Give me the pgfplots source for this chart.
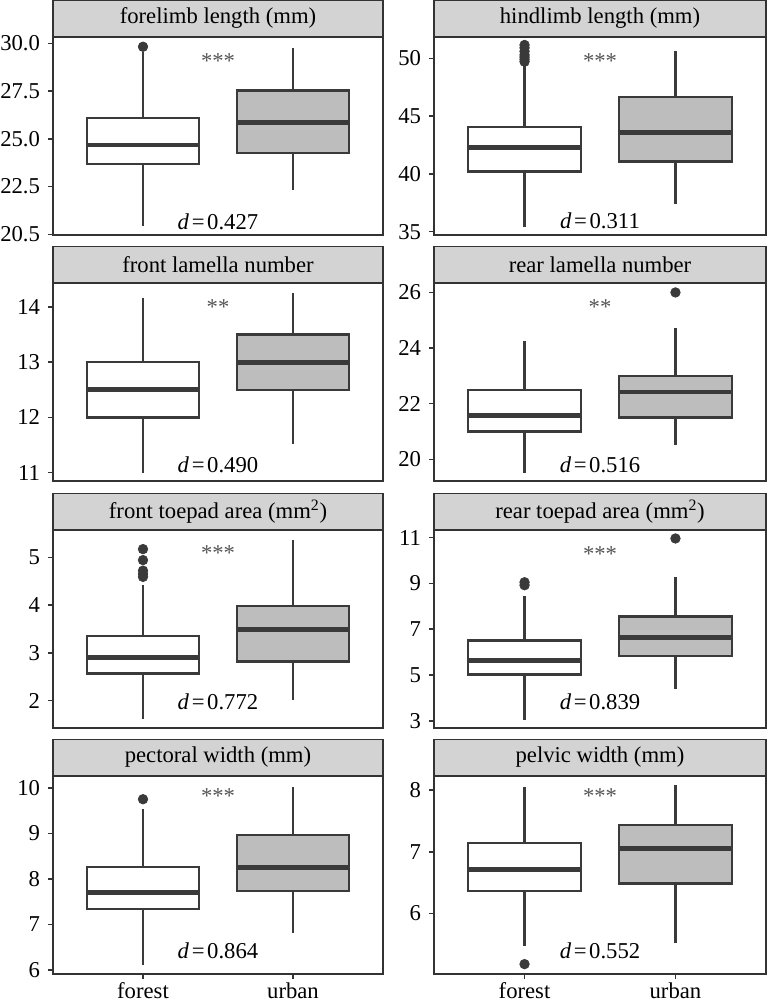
\documentclass[border=0pt]{standalone}
\usepackage{fontspec}
\setmainfont{Liberation Serif}
\usepackage{pgfplots}
\pgfplotsset{compat=1.18}
\usepgfplotslibrary{statistics}
\definecolor{axc}{HTML}{333333}
\definecolor{linec}{HTML}{3A3A3A}
\definecolor{urbanc}{HTML}{BDBDBD}
\definecolor{stripc}{HTML}{D3D3D3}
\definecolor{starc}{HTML}{555555}
\newcommand\lab{\fontsize{17}{20}\selectfont}
\pgfplotsset{
  panel/.style={
    scale only axis, height=148.5pt,
    xmin=0.4, xmax=2.6,
    axis line style={draw=axc, line width=1.1pt},
    tick pos=left, tick align=outside, major tick length=3.75pt,
    every tick/.style={draw=axc, line width=1.1pt},
    ticklabel style={font=\lab, text=black},
    yticklabel style={xshift=-2.5pt},
    xticklabel style={yshift=-1.5pt, inner ysep=1pt},
    /pgf/number format/assume math mode=true,
    xtick=\empty,
    clip=false,
    every axis title shift=0pt,
    title style={at={(0.5,1)}, anchor=south, yshift=0pt, draw=axc, fill=stripc, line width=0.9pt, minimum height=27pt, inner sep=0pt, font=\lab},
    after end axis/.append code={\draw[axc, line width=1.8pt] (rel axis cs:0,1) -- (rel axis cs:0,0) -- (rel axis cs:1,0);},
  },
  leftp/.style={panel, width=247.5pt, title style={minimum width=247.5pt}},
  rightp/.style={panel, width=249pt, title style={minimum width=249pt}},
  bottomrow/.style={xtick={1,2}, xticklabels={forest,urban}},
  bx/.style={boxplot/draw direction=y, boxplot/box extend=0.75, boxplot/whisker extend=0, draw=linec, line width=1.8pt,
     boxplot/every median/.style={line width=3.7pt},
     boxplot/every whisker/.style={line width=1.6pt},
     mark=*, mark size=3.6pt, mark options={fill=linec, draw=linec, line width=0.5pt}},
  forestbox/.style={bx, fill=white},
  urbanbox/.style={bx, fill=urbanc},
}
\newcommand\dlab[2]{\node[anchor=base, font=\lab] at (axis description cs:0.5,#1) {\textit{d}\kern2pt=\kern2pt#2};}
\newcommand\stars[2]{\node[anchor=base, font=\lab, text=starc] at (axis description cs:0.5,#1) {#2};}
\begin{document}
\begin{tikzpicture}
\path[use as bounding box] (0,0) rectangle (576pt,755.25pt);

% 1 forelimb
\begin{axis}[leftp, at={(39.75pt,579pt)}, anchor=south west, ymin=19.97, ymax=30.33,
  ytick={20,22.5,25,27.5,30}, yticklabels={20.5,22.5,25.0,27.5,30.0}, title={forelimb length (mm)}]
\addplot[forestbox, boxplot prepared={draw position=1, lower whisker=20.44, lower quartile=23.67, median=24.68, upper quartile=26.08, upper whisker=29.56}]
  table[row sep=\\, y index=0] {y\\ 29.82\\};
\addplot[urbanbox, boxplot prepared={draw position=2, lower whisker=22.33, lower quartile=24.25, median=25.87, upper quartile=27.54, upper whisker=29.74}]
  coordinates {};
\stars{0.843}{***}
\dlab{0.03}{0.427}
\end{axis}

% 2 hindlimb
\begin{axis}[rightp, at={(325.5pt,579pt)}, anchor=south west, ymin=34.71, ymax=51.84,
  ytick={35,40,45,50}, title={hindlimb length (mm)}]
\addplot[forestbox, boxplot prepared={draw position=1, lower whisker=35.44, lower quartile=40.2, median=42.27, upper quartile=44.07, upper whisker=49.5}]
  table[row sep=\\, y index=0] {y\\ 49.7\\ 49.9\\ 50.1\\ 50.3\\ 50.6\\ 50.9\\ 51.15\\};
\addplot[urbanbox, boxplot prepared={draw position=2, lower whisker=37.39, lower quartile=41.08, median=43.58, upper quartile=46.64, upper whisker=50.64}]
  coordinates {};
\stars{0.841}{***}
\dlab{0.034}{0.311}
\end{axis}

% 3 front lamella
\begin{axis}[leftp, at={(39.75pt,394.5pt)}, anchor=south west, ymin=10.85, ymax=14.43,
  ytick={11,12,13,14}, title={front lamella number}]
\addplot[forestbox, boxplot prepared={draw position=1, lower whisker=11.0, lower quartile=12.0, median=12.5, upper quartile=13.0, upper whisker=14.15}]
  coordinates {};
\addplot[urbanbox, boxplot prepared={draw position=2, lower whisker=11.51, lower quartile=12.5, median=13.0, upper quartile=13.5, upper whisker=14.24}]
  coordinates {};
\stars{0.839}{**}
\dlab{0.042}{0.490}
\end{axis}

% 4 rear lamella
\begin{axis}[rightp, at={(325.5pt,394.5pt)}, anchor=south west, ymin=19.22, ymax=26.34,
  ytick={20,22,24,26}, title={rear lamella number}]
\addplot[forestbox, boxplot prepared={draw position=1, lower whisker=19.52, lower quartile=21.0, median=21.58, upper quartile=22.5, upper whisker=24.24}]
  coordinates {};
\addplot[urbanbox, boxplot prepared={draw position=2, lower whisker=20.52, lower quartile=21.5, median=22.42, upper quartile=23.0, upper whisker=24.72}]
  table[row sep=\\, y index=0] {y\\ 26.0\\};
\stars{0.84}{**}
\dlab{0.042}{0.516}
\end{axis}

% 5 front toepad
\begin{axis}[leftp, at={(39.75pt,209.25pt)}, anchor=south west, ymin=1.43, ymax=5.57,
  ytick={2,3,4,5}, title={front toepad area (mm\textsuperscript{2})}]
\addplot[forestbox, boxplot prepared={draw position=1, lower whisker=1.61, lower quartile=2.57, median=2.91, upper quartile=3.35, upper whisker=4.43}]
  table[row sep=\\, y index=0] {y\\ 4.59\\ 4.65\\ 4.72\\ 4.94\\ 5.17\\};
\addplot[urbanbox, boxplot prepared={draw position=2, lower whisker=2.02, lower quartile=2.82, median=3.49, upper quartile=3.98, upper whisker=5.36}]
  coordinates {};
\stars{0.846}{***}
\dlab{0.091}{0.772}
\end{axis}

% 6 rear toepad
\begin{axis}[rightp, at={(325.5pt,209.25pt)}, anchor=south west, ymin=2.69, ymax=11.33,
  ytick={3,5,7,9,11}, title={rear toepad area (mm\textsuperscript{2})}]
\addplot[forestbox, boxplot prepared={draw position=1, lower whisker=3.04, lower quartile=5.03, median=5.65, upper quartile=6.51, upper whisker=8.46}]
  table[row sep=\\, y index=0] {y\\ 8.92\\ 9.05\\};
\addplot[urbanbox, boxplot prepared={draw position=2, lower whisker=4.38, lower quartile=5.82, median=6.63, upper quartile=7.55, upper whisker=9.26}]
  table[row sep=\\, y index=0] {y\\ 10.96\\};
\stars{0.843}{***}
\dlab{0.091}{0.839}
\end{axis}

% 7 pectoral
\begin{axis}[leftp, bottomrow, at={(39.75pt,24.75pt)}, anchor=south west, ymin=5.91, ymax=10.26,
  ytick={6,7,8,9,10}, title={pectoral width (mm)}]
\addplot[forestbox, boxplot prepared={draw position=1, lower whisker=6.1, lower quartile=7.34, median=7.71, upper quartile=8.26, upper whisker=9.54}]
  table[row sep=\\, y index=0] {y\\ 9.75\\};
\addplot[urbanbox, boxplot prepared={draw position=2, lower whisker=6.82, lower quartile=7.73, median=8.25, upper quartile=8.96, upper whisker=10.02}]
  coordinates {};
\stars{0.863}{***}
\dlab{0.077}{0.864}
\end{axis}

% 8 pelvic
\begin{axis}[rightp, bottomrow, at={(325.5pt,24.75pt)}, anchor=south west, ymin=5.02, ymax=8.23,
  ytick={6,7,8}, title={pelvic width (mm)}]
\addplot[forestbox, boxplot prepared={draw position=1, lower whisker=5.48, lower quartile=6.37, median=6.72, upper quartile=7.14, upper whisker=8.05}]
  table[row sep=\\, y index=0] {y\\ 5.18\\};
\addplot[urbanbox, boxplot prepared={draw position=2, lower whisker=5.53, lower quartile=6.49, median=7.05, upper quartile=7.44, upper whisker=8.09}]
  coordinates {};
\stars{0.863}{***}
\dlab{0.079}{0.552}
\end{axis}
\end{tikzpicture}
\end{document}
